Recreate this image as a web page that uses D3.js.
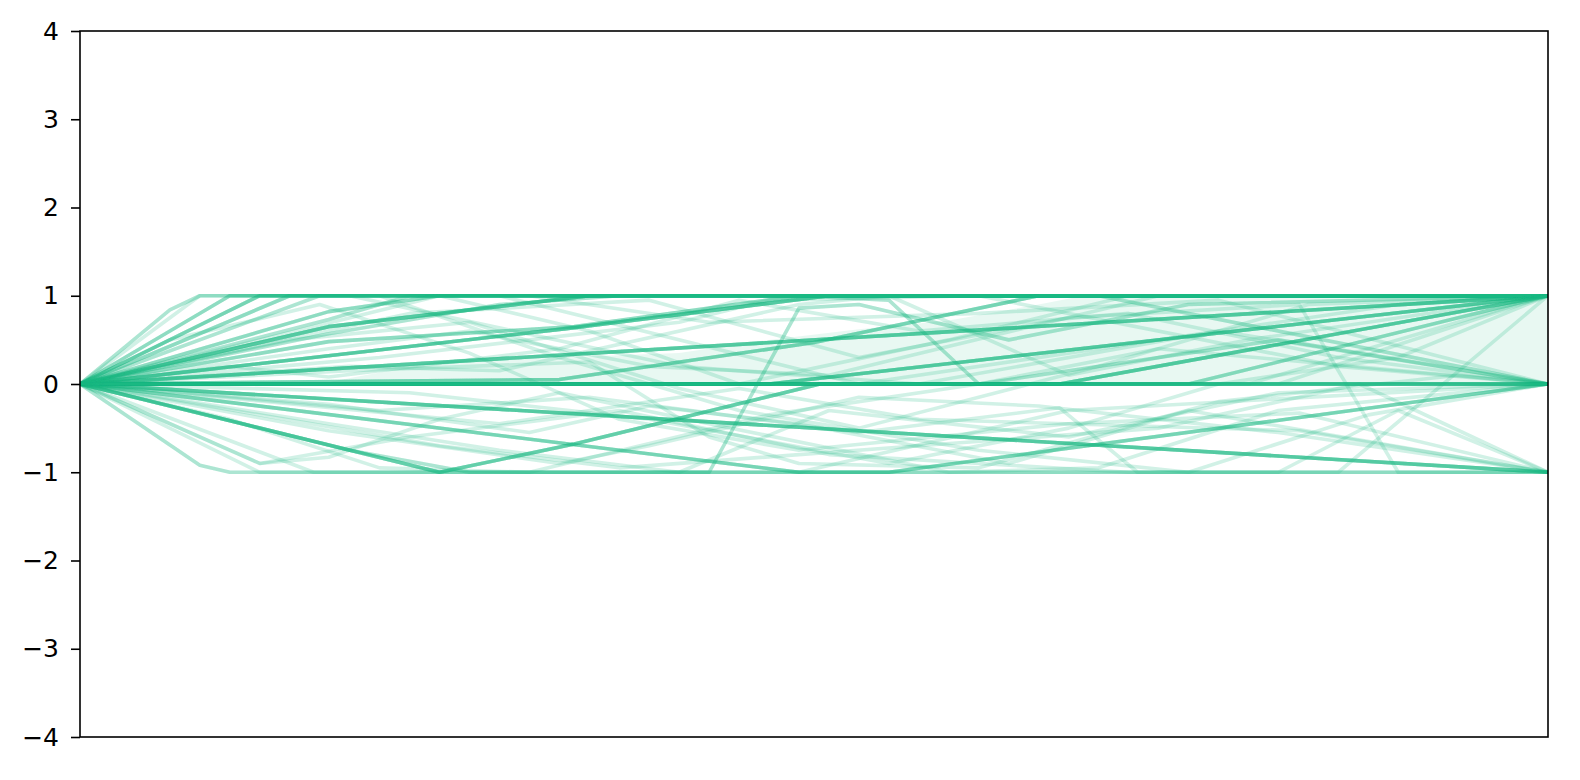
<!DOCTYPE html>
<html>
<head>
<meta charset="utf-8" />
<title>paths</title>
<script src="https://cdn.jsdelivr.net/npm/d3@7/dist/d3.min.js"></script>
<style>
    body { margin: 0px; background: #fff; }
    .tick text { font-family: "DejaVu Sans", sans-serif; font-size: 25px; }
</style>
</head>
<body>
<svg id="chart" width="1580" height="780"></svg>
<script>

// each path: [runs, [[step, value], ...]]  runs = how many identical runs lie on that path
var flatPaths = [
    [5, [[0,0],[49,0]]]
];

var upperPaths = [
    [6, [[0,0],[49,1]]],
    [6, [[0,0],[8.3,0.65],[17,1],[49,1]]],
    [6, [[0,0],[16.3,0.63],[25,1],[49,1]]],
    [3, [[0,0],[8.3,0.48],[16.5,0.65],[24,1],[49,1]]],
    [6, [[0,0],[23,0],[49,1]]],
    [6, [[0,0],[32.7,0],[49,1]]],
    [4, [[0,0],[16,0.05],[24.5,0.47],[32,1],[49,1]]],
    [3, [[0,0],[37,0],[49,1]]],
    [1, [[0,0],[39,0],[49,1]]],
    [1, [[0,0],[40,0],[49,1]]],
    [2, [[0,0],[3,0.84],[4,1],[49,1]]],
    [2, [[0,0],[5,1],[49,1]]],
    [3, [[0,0],[6,1],[49,1]]],
    [2, [[0,0],[7,1],[49,1]]],
    [2, [[0,0],[8,1],[49,1]]],
    [3, [[0,0],[8.3,0.82],[12,1],[49,1]]]
];

var lowerPaths = [
    [6, [[0,0],[49,-1]]],
    [4, [[0,0],[24,-1],[27,-1],[40.7,-0.38],[49,0]]],
    [5, [[0,0],[12,-1],[16.5,-0.68],[24.7,0],[49,0]]],
    [2, [[0,0],[4,-0.92],[5,-1],[49,-1]]],
    [1, [[0,0],[6,-1],[49,-1]]],
    [1, [[0,0],[7.8,-1],[20,-1],[25,-0.3],[33,-0.6],[40,-0.1],[49,0]]],
    [1, [[0,0],[8.3,-0.23],[15,-0.55],[19,-0.25],[24,-0.45],[31,-0.9],[37,-0.3],[49,-1]]],
    [1, [[0,0],[8.3,-0.45],[14,-0.75],[20,-1],[24,-1],[33,-0.3],[49,0]]],
    [1, [[0,0],[8.3,-0.53],[16,-0.9],[19,-0.7],[26,-0.15],[32,-0.25],[40,-0.55],[49,-1]]],
    [1, [[0,0],[6,-0.9],[8.3,-0.83],[12,-0.4],[16,-0.1],[21,-0.45],[29,-1],[34,-0.95],[40,-0.3],[49,0]]],
    [1, [[0,0],[6,-0.9],[11,-0.6],[18,-0.3],[25,-0.8],[35,-1],[42,-1],[49,1]]],
    [2, [[0,0],[9,-0.75],[13,-1],[21,-1],[24,0.86],[26,0.9],[31,0.5],[37,0.9],[49,1]]],
    [1, [[0,0],[10,-0.3],[17,-0.15],[26,-0.55],[32.7,-0.27],[35.3,-1],[37,-1],[43,-0.35],[49,0]]],
    [1, [[0,0],[11,-0.1],[19,-0.4],[27,-0.9],[33,-0.5],[38,0],[44,0.3],[49,1]]],
    [1, [[0,0],[5,-0.4],[10,-0.95],[15,-1],[23,-0.35],[30,0],[36,0.4],[49,0]]],
    [1, [[0,0],[14,-0.45],[22,-0.05],[28,-0.4],[40.7,-0.53],[49,-1]]],
    [1, [[0,0],[12,-0.7],[18,-0.95],[28,-0.7],[36,-0.5],[42.7,0],[49,-1]]]
];

var crossPaths = [
    [1, [[0,0],[4,1],[14,1],[26,0],[34,0.4],[44,0.9],[49,1]]],
    [1, [[0,0],[6,1],[9,1],[20,0.2],[28,0],[38,0.6],[49,0]]],
    [2, [[0,0],[8.3,0.73],[11,1],[24,1],[27,0.95],[30,0],[40,0.5],[49,0]]],
    [2, [[0,0],[8.3,0.57],[14,0.9],[18,1],[34,1],[49,0]]],
    [1, [[0,0],[8.3,0.4],[13,0.6],[19,0.2],[25,0.1],[36,1],[49,1]]],
    [1, [[0,0],[5,0.2],[8.3,0.08],[16,0.4],[22,0.95],[28,0.6],[35,0.8],[42,0.3],[49,0]]],
    [1, [[0,0],[12,1],[17,0.6],[22,0],[29,0.5],[35,1],[49,1]]],
    [1, [[0,0],[7,1],[15,1],[21,0.7],[30,0.8],[38,0.95],[49,0]]],
    [1, [[0,0],[10,0.3],[20,0.7],[23,0.95],[30,1],[42,0.2],[49,0]]],
    [1, [[0,0],[9,0.2],[14,0.15],[24,0.9],[27,1],[33,0.1],[39,0.5],[49,1]]],
    [1, [[0,0],[5,1],[10,1],[16,0.3],[22,-0.3],[30,-0.75],[37,-1],[40,-1],[44,-0.3],[49,-1]]],
    [1, [[0,0],[7,0.5],[13,0.7],[20,-0.05],[26,-0.5],[34,0.2],[41,0.9],[49,1]]],
    [1, [[0,0],[3,0.5],[8,0.9],[13,0.35],[18,-0.4],[24,-0.75],[33,-0.45],[40.7,-0.33],[49,-1]]],
    [1, [[0,0],[9,0.15],[17,0.25],[21,-0.6],[24,-0.9],[30,-0.95],[38,-0.2],[46,0.1],[49,0]]],
    [1, [[0,0],[11,0.8],[19,0.95],[26,0.3],[33,0.75],[40.7,0.9],[44,-1],[49,-1]]]
];

// shaded band: lower edge at 0, upper edge
var bandSteps = [0, 8, 9.5, 12, 16, 20, 23, 26, 29, 32, 33.5, 49];
var bandUpper = [0, 0, 0.1, 0.25, 0.3, 0.35, 0.5, 0.62, 0.72, 0.9, 1, 1];

var yTicks = [-4, -3, -2, -1, 0, 1, 2, 3, 4];


function main() {

    var margin = {left: 80, top: 31, right: 1548, bottom: 737};
    var green = '#1ab883';

    var svg = d3.select('#chart');

    var x = d3.scaleLinear().domain([0, 49]).range([margin.left, margin.right]);
    var y = d3.scaleLinear().domain([-4, 4]).range([margin.bottom, margin.top]);

    svg.append('defs').append('clipPath').attr('id', 'plot-clip')
        .append('rect')
        .attr('x', margin.left).attr('y', margin.top)
        .attr('width', margin.right - margin.left)
        .attr('height', margin.bottom - margin.top);

    var plot = svg.append('g').attr('clip-path', 'url(#plot-clip)');

    // band
    var band = d3.area()
        .x(function(d, i) { return x(bandSteps[i]); })
        .y0(function() { return y(0); })
        .y1(function(d) { return y(d); });

    plot.append('path')
        .datum(bandUpper)
        .attr('d', band)
        .style('fill', green)
        .style('fill-opacity', 0.1);

    // unroll runs so identical runs stack their transparency
    var all = [].concat(crossPaths, lowerPaths, upperPaths, flatPaths);
    var runs = [];
    all.forEach(function(p) {
        for (var i = 0; i < p[0]; i++) runs.push(p[1]);
    });

    var line = d3.line()
        .x(function(d) { return x(d[0]); })
        .y(function(d) { return y(d[1]); });

    plot.selectAll('path.run')
        .data(runs)
        .enter().append('path')
        .attr('class', 'run')
        .attr('d', line)
        .style('fill', 'none')
        .style('stroke', green)
        .style('stroke-opacity', 0.2)
        .style('stroke-width', 3.6)
        .style('stroke-linejoin', 'round');

    // axes
    var yAxis = d3.axisLeft(y)
        .tickValues(yTicks)
        .tickSize(9)
        .tickPadding(12)
        .tickFormat(function(d) { return d < 0 ? '\u2212' + Math.abs(d) : d; });

    var gy = svg.append('g')
        .attr('transform', 'translate(' + margin.left + ',0)')
        .call(yAxis)
        .attr('font-size', 25)
        .attr('font-family', 'DejaVu Sans, sans-serif');
    gy.select('.domain').remove();
    gy.selectAll('line').style('stroke', '#000').style('stroke-width', 1.6);
    gy.selectAll('text').style('fill', '#000');

    // frame
    svg.append('rect')
        .attr('x', margin.left).attr('y', margin.top)
        .attr('width', margin.right - margin.left)
        .attr('height', margin.bottom - margin.top)
        .style('fill', 'none')
        .style('stroke', '#000')
        .style('stroke-width', 1.6);
}

main();

</script>
</body>
</html>
